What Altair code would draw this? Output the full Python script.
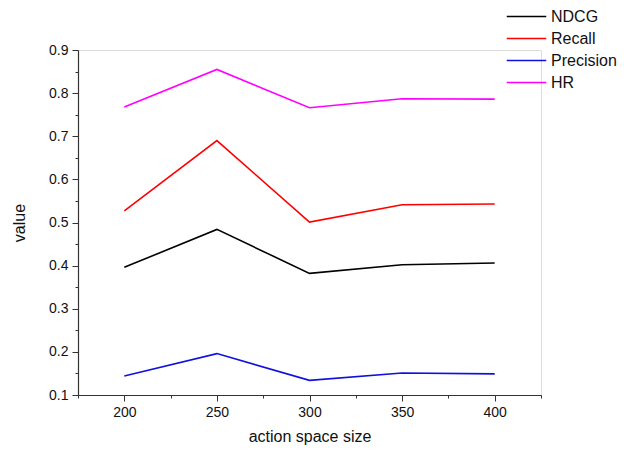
import altair as alt
import pandas as pd

sizes = [200, 250, 300, 350, 400]
ndcg = [0.396, 0.484, 0.382, 0.402, 0.406]
recall = [0.527, 0.690, 0.501, 0.541, 0.543]
precision = [0.144, 0.196, 0.134, 0.151, 0.149]
hr = [0.768, 0.855, 0.766, 0.787, 0.786]

series = ["NDCG", "Recall", "Precision", "HR"]
colors = ["#000000", "#ff0000", "#1010e0", "#ff00ff"]

rows = []
for name, vals in zip(series, [ndcg, recall, precision, hr]):
    for s, v in zip(sizes, vals):
        rows.append({"size": s, "value": v, "metric": name})
df = pd.DataFrame(rows)

x_major = [200, 250, 300, 350, 400]
x_minor = [175, 225, 275, 325, 375, 425]
y_major = [0.1, 0.2, 0.3, 0.4, 0.5, 0.6, 0.7, 0.8, 0.9]
y_minor = [0.15, 0.25, 0.35, 0.45, 0.55, 0.65, 0.75, 0.85]

font = "Liberation Sans"
xscale = alt.Scale(domain=[175, 425], nice=False, zero=False)
yscale = alt.Scale(domain=[0.1, 0.9], nice=False, zero=False)

lines = alt.Chart(df).mark_line(strokeWidth=1.6).encode(
    x=alt.X("size:Q", scale=xscale,
            axis=alt.Axis(values=x_major, title="action space size", grid=False,
                          tickSize=6, labelFontSize=14, titleFontSize=16,
                          labelFont=font, titleFont=font, labelColor="#111",
                          titleColor="#111", titleFontWeight="normal",
                          domainColor="#333", tickColor="#333",
                          labelPadding=4, titlePadding=9, domainWidth=1.2)),
    y=alt.Y("value:Q", scale=yscale,
            axis=alt.Axis(values=y_major, title="value", grid=False, format=".1f",
                          tickSize=6, labelFontSize=14, titleFontSize=16,
                          labelFont=font, titleFont=font, labelColor="#111",
                          titleColor="#111", titleFontWeight="normal",
                          domainColor="#333", tickColor="#333",
                          labelPadding=4, titlePadding=21, domainWidth=1.2)),
    color=alt.Color("metric:N", scale=alt.Scale(domain=series, range=colors),
                    legend=alt.Legend(title=None, orient="none", legendX=440, legendY=-42,
                                      symbolType="M-2.6,0H2.6", symbolSize=231,
                                      symbolStrokeWidth=1.6, labelFontSize=16,
                                      labelFont=font, labelColor="#111",
                                      rowPadding=5, labelOffset=16)),
)

minor = alt.Chart(df).mark_line(opacity=0).encode(
    x=alt.X("size:Q", scale=xscale,
            axis=alt.Axis(values=x_minor, orient="bottom", labels=False, title=None,
                          grid=False, domain=False, tickSize=3, tickColor="#333")),
    y=alt.Y("value:Q", scale=yscale,
            axis=alt.Axis(values=y_minor, orient="left", labels=False, title=None,
                          grid=False, domain=False, tickSize=3, tickColor="#333")),
    detail="metric:N",
)

chart = alt.layer(lines, minor).resolve_axis(x="independent", y="independent").properties(
    width=463, height=345,
    autosize=alt.AutoSizeParams(type="none"),
    padding={"left": 78, "top": 50, "right": 83, "bottom": 56},
).configure_view(stroke=None).configure(background="white")

chart.save("out.html", embed_options={"renderer": "svg", "actions": False})
